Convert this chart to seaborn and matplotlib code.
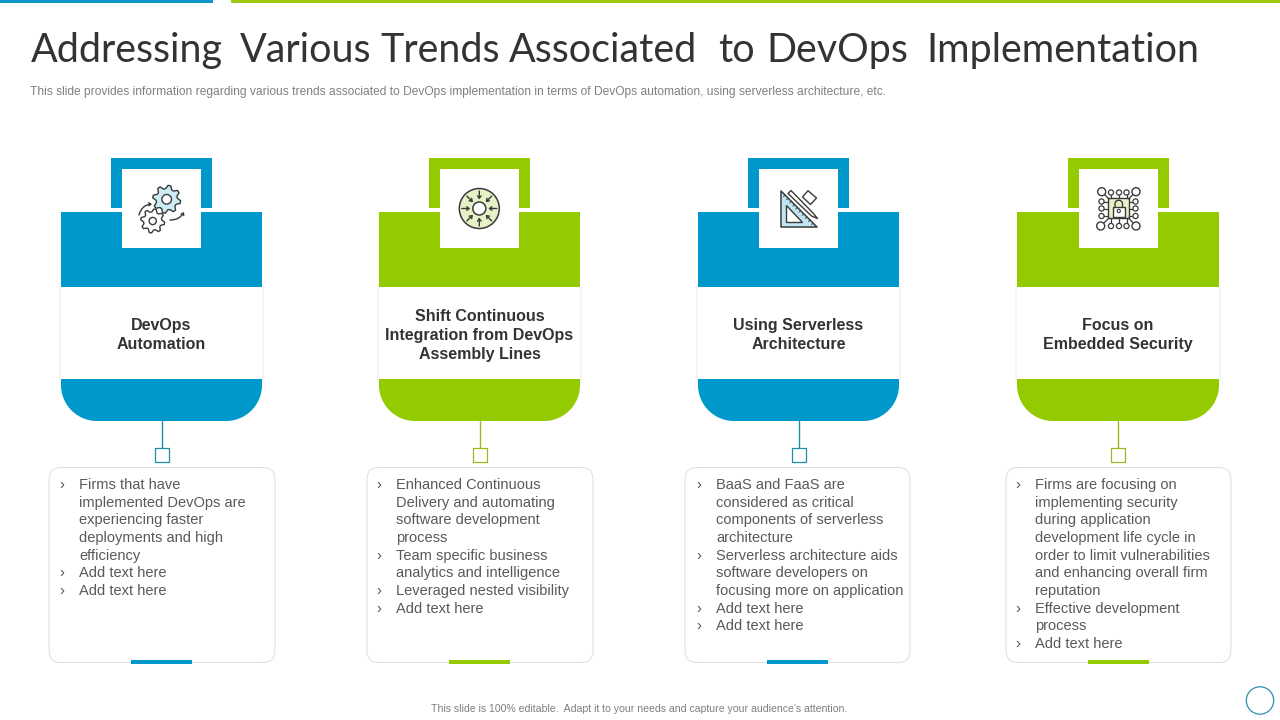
import numpy as np
import pandas as pd
import matplotlib
matplotlib.use("Agg")
import matplotlib.pyplot as plt
from matplotlib.patches import Rectangle, Circle, Polygon, FancyBboxPatch
import seaborn as sns

# ---- content ----
title_words = ["Addressing", "Various", "Trends", "Associated", "to", "DevOps", "Implementation"]
subtitle = ("This slide provides information regarding various trends associated to DevOps "
            "implementation in terms of DevOps automation, using serverless architecture, etc.")
footer = "This slide is 100% editable.  Adapt it to your needs and capture your audience\u2019s attention."
card_titles = [
    ["DevOps", "Automation"],
    ["Shift Continuous", "Integration from DevOps", "Assembly Lines"],
    ["Using Serverless", "Architecture"],
    ["Focus on", "Embedded Security"],
]
card_bullets = [
    [["Firms that have", "implemented DevOps are", "experiencing faster", "deployments and high", "efficiency"],
     ["Add text here"], ["Add text here"]],
    [["Enhanced Continuous", "Delivery and automating", "software development", "process"],
     ["Team specific business", "analytics and intelligence"],
     ["Leveraged nested visibility"], ["Add text here"]],
    [["BaaS and FaaS are", "considered as critical", "components of serverless", "architecture"],
     ["Serverless architecture aids", "software developers on", "focusing more on application"],
     ["Add text here"], ["Add text here"]],
    [["Firms are focusing on", "implementing security", "during application", "development life cycle in",
      "order to limit vulnerabilities", "and enhancing overall firm", "reputation"],
     ["Effective development", "process"], ["Add text here"]],
]
BLUE, GREEN = "#0098CB", "#94CA00"
card_colors = [BLUE, GREEN, BLUE, GREEN]
line_colors = ["#1F8FA8", "#9DB81E", "#1F8FA8", "#9DB81E"]
pale_colors = {"blue": "#CDEBF5", "green": "#E6F1C6"}

# ---- layout (pixels) ----
title_x = [31, 240, 380, 509, 718, 766, 926]
card_x = [61, 379, 698, 1017]
card_w = [201, 201, 201, 202]
bracket_x = [111, 429, 748, 1068]
box_x = [49, 367, 685, 1006]
box_w = [226, 226, 225, 225]
bar_x = [131, 449, 767, 1088]
conn_x = [162, 480, 799, 1118]
chev_x = [59.5, 376.5, 696, 1015]
text_x = [79, 396, 716, 1035]
head_cy = [333.5, 334.5, 333.5, 333.5]
BODY = "Liberation Sans"
INK = "#3A3A3A"

sns.set_theme(style="white")
fig = plt.figure(figsize=(12.8, 7.2), dpi=100, facecolor="white")
ax = fig.add_axes([0, 0, 1, 1])
ax.set_xlim(0, 1280)
ax.set_ylim(720, 0)
ax.axis("off")
PT = 0.72


def rect(x0, y0, x1, y1, c, z=2):
    ax.add_patch(Rectangle((x0, y0), x1 - x0, y1 - y0, fc=c, ec="none", zorder=z))


def rounded_bottom(x0, x1, y0, y1, r, c):
    t = np.linspace(0, np.pi / 2, 24)
    right = np.c_[x1 - r + r * np.cos(t), y1 - r + r * np.sin(t)]
    left = np.c_[x0 + r - r * np.sin(t), y1 - r + r * np.cos(t)]
    ax.add_patch(Polygon(np.r_[[[x0, y0], [x1, y0]], right, left], closed=True, fc=c, ec="none", zorder=2))


def gear(cx, cy, r, teeth, hole, fc):
    ang = np.linspace(0, 2 * np.pi, teeth * 4, endpoint=False) + np.pi / (teeth * 4)
    rad = np.tile([r, r, r * 0.76, r * 0.76], teeth)
    ax.add_patch(Polygon(np.c_[cx + rad * np.cos(ang), cy + rad * np.sin(ang)], closed=True,
                         fc=fc, ec=INK, lw=1.0, joinstyle="round", zorder=5))
    ax.add_patch(Circle((cx, cy), hole, fc="white", ec=INK, lw=1.0, zorder=6))


def arrow(p, q, rad=0.0, ms=6):
    ax.annotate("", xy=q, xytext=p, zorder=6,
                arrowprops=dict(arrowstyle="->,head_length=0.25,head_width=0.18", color=INK, lw=1.0,
                                shrinkA=0, shrinkB=0, mutation_scale=ms,
                                connectionstyle=f"arc3,rad={rad}"))


def icon_gears():
    gear(166.7, 199.3, 14, 8, 4.8, pale_colors["blue"])
    gear(152.7, 221, 12, 8, 3.6, "white")
    arrow((139, 215), (152, 204), -0.35)
    arrow((170, 220), (184, 212), 0.3)


def icon_target():
    c = (479.3, 208.5)
    ax.add_patch(Circle(c, 20, fc=pale_colors["green"], ec=INK, lw=1.1, zorder=5))
    ax.add_patch(Circle(c, 6.5, fc="white", ec=INK, lw=1.1, zorder=6))
    for a in np.arange(8) * np.pi / 4:
        u = np.array([np.cos(a), np.sin(a)])
        arrow(tuple(np.array(c) + 17.5 * u), tuple(np.array(c) + 9 * u), ms=7)


def icon_tools():
    ax.add_patch(Polygon([[780.7, 190.7], [780.7, 226.7], [816.7, 226.7]], closed=True,
                         fc="#BFE6F2", ec=INK, lw=1.1, joinstyle="round", zorder=5))
    ax.add_patch(Polygon([[785.7, 205], [785.7, 221.7], [801.7, 221.7]], closed=True,
                         fc="white", ec=INK, lw=1.0, zorder=6))
    for s in np.linspace(0.12, 0.9, 10):
        p = np.array([780.7 + 36 * s, 190.7 + 36 * s])
        ax.plot([p[0], p[0] - 1.6], [p[1], p[1] + 1.6], color=INK, lw=0.6, zorder=6)
    ax.add_patch(Polygon([[788, 193.5], [791, 190.5], [813.5, 213.5], [817.5, 218.5], [811.5, 216]],
                         closed=True, fc="white", ec=INK, lw=1.0, joinstyle="round", zorder=7))
    ax.add_patch(Polygon([[808, 190.7], [816.5, 198], [810.5, 204.5], [802.5, 197]], closed=True,
                         fc="white", ec=INK, lw=1.0, joinstyle="round", zorder=7))


def icon_chip():
    rect(1108.3, 198.3, 1129, 218.3, pale_colors["green"], 5)
    ax.add_patch(Rectangle((1108.3, 198.3), 20.7, 20, fc="none", ec=INK, lw=1.0, zorder=6))
    hub = [(1101.7, 191.7, 1109, 199), (1136, 191.7, 1128.5, 199),
           (1100.7, 226, 1109, 218), (1136, 226, 1128.5, 218)]
    for x, y, xe, ye in hub:
        ax.plot([x, xe], [y, ye], color=INK, lw=0.9, zorder=5)
        ax.add_patch(Circle((x, y), 4, fc="white", ec=INK, lw=1.0, zorder=6))
    for x in (1111, 1119, 1126.5):
        for y, e in ((192.5, 198.3), (226, 218.3)):
            ax.plot([x, x], [y, e], color=INK, lw=0.9, zorder=5)
            ax.add_patch(Circle((x, y), 2.6, fc="white", ec=INK, lw=0.9, zorder=6))
    for y in (201.5, 208.5, 216):
        for x, e in ((1101.5, 1108.3), (1135.5, 1129)):
            ax.plot([x, e], [y, y], color=INK, lw=0.9, zorder=5)
            ax.add_patch(Circle((x, y), 2.6, fc="white", ec=INK, lw=0.9, zorder=6))
    ax.add_patch(Rectangle((1113, 207), 11.5, 10, fc="white", ec=INK, lw=1.0, zorder=7))
    t = np.linspace(np.pi, 2 * np.pi, 20)
    ax.plot(np.r_[1115, 1115 + 3.75 * (1 + np.cos(t)), 1122.5], np.r_[207, 204 + 3.75 * np.sin(t), 207],
            color=INK, lw=1.0, zorder=7)
    ax.add_patch(Circle((1118.8, 211), 1.6, fc="none", ec=INK, lw=0.8, zorder=8))


icons = [icon_gears, icon_target, icon_tools, icon_chip]

# header strips
rect(0, 0, 213, 3, "#0F97C7")
rect(231, 0, 1280, 3, "#9DC80F")

# title, subtitle, footer
for word, x in zip(title_words, title_x):
    ax.text(x, 62, word, fontsize=39.5 * PT, family="Lato", weight="normal",
            color="#333333", ha="left", va="baseline")
ax.text(30, 95.5, subtitle, fontsize=12 * PT, family=BODY, color="#808080", ha="left", va="baseline")
ax.text(639.5, 712, footer, fontsize=10.5 * PT, family=BODY, color="#7F7F7F", ha="center", va="baseline")

# cards
for i in range(4):
    c, x, w = card_colors[i], card_x[i], card_w[i]
    # bracket behind the icon tile
    bx = bracket_x[i]
    ax.add_patch(Polygon([[bx, 208], [bx, 158], [bx + 101, 158], [bx + 101, 208], [bx + 90, 208],
                          [bx + 90, 169], [bx + 11, 169], [bx + 11, 208]],
                         closed=True, fc=c, ec="none", zorder=2))
    rect(x, 212, x + w, 287, c)
    rect(bx + 11, 169, bx + 90, 248, "white", 3)
    rect(x - 2, 287, x + w + 2, 381, "#F5F5F5", 1)
    rect(x, 287, x + w, 379, "white", 3)
    rounded_bottom(x, x + w, 379, 421, 36, c)
    icons[i]()

    # heading
    lines = card_titles[i]
    y0 = head_cy[i] - (len(lines) - 1) * 19 / 2
    for k, s in enumerate(lines):
        ax.text(x + w / 2, y0 + k * 19 + 5.7, s, fontsize=16.05 * PT, family=BODY, weight="bold",
                color="#333333", ha="center", va="baseline", zorder=6)

    # connector and its square
    ax.plot([conn_x[i]] * 2, [421, 448], color=line_colors[i], lw=1.0, zorder=2)
    sq = pd.DataFrame({"x": [conn_x[i]], "y": [455]})
    sns.scatterplot(data=sq, x="x", y="y", ax=ax, marker="s", s=98, color="white",
                    edgecolor=line_colors[i], linewidth=0.9, legend=False, zorder=4)

    # text box
    ax.add_patch(FancyBboxPatch((box_x[i] + 12, 467.5 + 12), box_w[i] - 24, 195 - 24,
                                boxstyle="round,pad=12,rounding_size=12",
                                fc="white", ec="#DEDEDE", lw=0.7, zorder=2))
    rect(bar_x[i], 659.5, bar_x[i] + 61, 664, c, 3)
    n = 0
    for bullet in card_bullets[i]:
        ax.text(chev_x[i], 489 + n * 17.67, "\u203A", fontsize=15 * PT, family=BODY,
                color="#595959", ha="left", va="baseline", zorder=5)
        for s in bullet:
            ax.text(text_x[i], 489 + n * 17.67, s, fontsize=14.6 * PT, family=BODY,
                    color="#595959", ha="left", va="baseline", zorder=5)
            n += 1

ax.add_patch(Circle((1260, 700.5), 13.7, fc="white", ec="#2E8FB3", lw=0.9, zorder=2))
ax.set_xlim(0, 1280)
ax.set_ylim(720, 0)
ax.set_xlabel("")
ax.set_ylabel("")
fig.savefig("out.png", dpi=100, facecolor="white")
